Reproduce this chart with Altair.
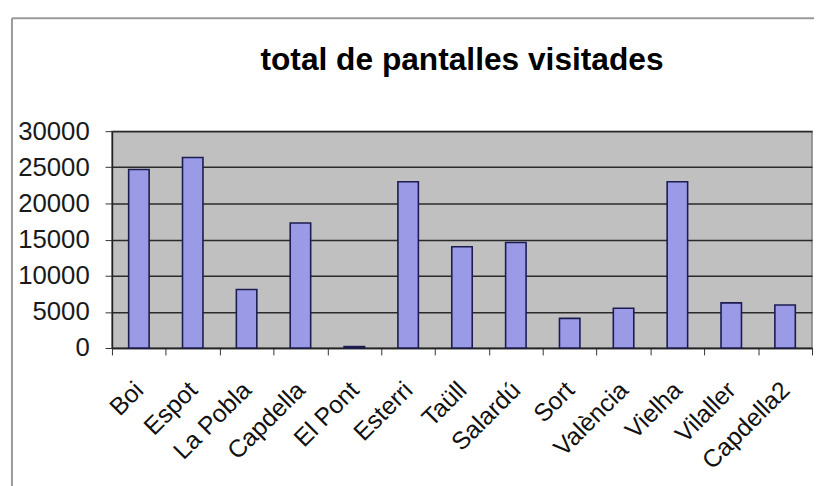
import altair as alt
import pandas as pd

categories = ["Boi", "Espot", "La Pobla", "Capdella", "El Pont", "Esterri", "Taüll",
              "Salardú", "Sort", "València", "Vielha", "Vilaller", "Capdella2"]
values = [24700, 26350, 8100, 17300, 200, 23000, 14000, 14600, 4100, 5500, 23000, 6250, 5950]
y_ticks = [0, 5000, 10000, 15000, 20000, 25000, 30000]

df = pd.DataFrame({"lloc": categories, "total": values})

FONT = "Liberation Sans"

bars = alt.Chart(df).mark_bar(
    width={"band": 0.38}, fill="#9a9ae6", stroke="#1c1c50", strokeWidth=1.6
).encode(
    x=alt.X("lloc:N", sort=categories, title=None,
            scale=alt.Scale(paddingInner=0, paddingOuter=0),
            axis=alt.Axis(labelAngle=-45, labelAlign="right", labelBaseline="middle",
                          labelFontSize=25, labelFont=FONT, labelColor="#111",
                          labelPadding=31, tickBand="extent", ticks=True, tickSize=7,
                          tickColor="#333", domainColor="#222", domainWidth=1.5,
                          grid=False)),
    y=alt.Y("total:Q", title=None,
            scale=alt.Scale(domain=[0, 30000], nice=False),
            axis=alt.Axis(values=y_ticks, format="d", labelFontSize=26, labelFont=FONT,
                          labelColor="#1a1a1a", labelPadding=16, tickSize=7,
                          tickColor="#333", domainColor="#222", domainWidth=1.5,
                          grid=True, gridColor="#2a2a2a", gridWidth=1.5)),
)

frame_data = alt.Data(values=[{"k": 1}])
frame_left = alt.Chart(frame_data).mark_rule(color="#9a9a9a", strokeWidth=2).encode(
    x=alt.value(-101), y=alt.value(-114), y2=alt.value(400))
frame_top = alt.Chart(frame_data).mark_rule(color="#9a9a9a", strokeWidth=2).encode(
    x=alt.value(-101), x2=alt.value(720), y=alt.value(-114))

chart = alt.layer(bars, frame_left, frame_top).properties(
    width=707, height=219,
    title=alt.TitleParams("total de pantalles visitades", font=FONT, fontSize=32,
                          fontWeight="bold", color="#000", anchor="middle", offset=-60),
    padding={"left": 105, "top": 122, "right": 2, "bottom": 140},
    autosize=alt.AutoSizeParams(type="none"),
    background="#ffffff",
).configure_view(
    fill="#c0c0c0", stroke="#808080", strokeWidth=1.5
)

chart.save("out.html", embed_options={"renderer": "svg", "actions": False})
